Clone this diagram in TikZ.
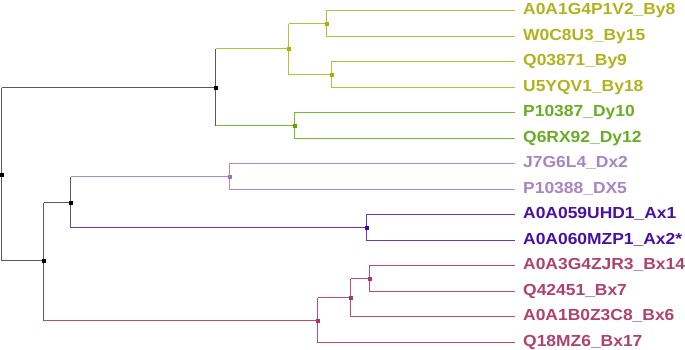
\documentclass[tikz,border=0pt]{standalone}
\usepackage{fontspec}
\newfontfamily\lab[FakeStretch=1.09]{Liberation Sans}
\definecolor{yellowtext}{HTML}{B2B21C}
\definecolor{yellowline}{HTML}{BDBD3C}
\definecolor{yellowdot}{HTML}{AFAF00}
\definecolor{greentext}{HTML}{68AE22}
\definecolor{greenline}{HTML}{78BA30}
\definecolor{greendot}{HTML}{5EA800}
\definecolor{lilactext}{HTML}{A885C0}
\definecolor{lilacline}{HTML}{B08AC8}
\definecolor{lilacdot}{HTML}{A070C0}
\definecolor{violettext}{HTML}{4A10A6}
\definecolor{violetline}{HTML}{6A38BE}
\definecolor{violetdot}{HTML}{4A00B0}
\definecolor{rosetext}{HTML}{B0426E}
\definecolor{roseline}{HTML}{BC4E76}
\definecolor{rosedot}{HTML}{B03464}
\definecolor{greyline}{HTML}{5A5A5A}
\tikzset{
  br/.style={line width=1.5pt, color=#1},
  dot/.style={rectangle, inner sep=0pt, minimum size=4pt, fill=#1},
  leaflab/.style={anchor=base west, inner sep=0pt, text=#1, font=\lab\bfseries\fontsize{16}{19}\selectfont},
}
\begin{document}
\begin{tikzpicture}[x=1pt,y=-1pt]
\useasboundingbox (0,0) rectangle (685,349);
% leaf end coordinates
\foreach \i/\y in {1/10.5,2/36.5,3/61.5,4/87.5,5/112.5,6/138.5,7/163.5,8/189.5,9/214.5,10/240.5,11/265.5,12/291.5,13/316.5,14/342.5}{
  \coordinate (l\i) at (514.5,\y);
}
% internal node positions
\coordinate (C) at (326.5,23.5);
\coordinate (D) at (331.5,74.5);
\coordinate (B) at (288.5,48.5);
\coordinate (E) at (294.5,125.5);
\coordinate (A) at (215.5,87.5);
\coordinate (F) at (229.5,176.5);
\coordinate (H) at (366.5,227.5);
\coordinate (G) at (70.5,202.5);
\coordinate (L) at (369.5,278.5);
\coordinate (K) at (350.5,297.5);
\coordinate (J) at (317.5,320.5);
\coordinate (I) at (43.5,260.5);
\coordinate (R) at (1.5,174.5);

% root
\draw[br=greyline] (R |- A) -- (R |- I);
\draw[br=greyline] (R |- A) -- (A);
\draw[br=greyline] (R |- I) -- (I);
% A
\draw[br=greyline] (A |- B) -- (A |- E);
\draw[br=yellowline] (A |- B) -- (B);
\draw[br=greenline] (A |- E) -- (E);
% B
\draw[br=yellowline] (B |- C) -- (B |- D);
\draw[br=yellowline] (B |- C) -- (C);
\draw[br=yellowline] (B |- D) -- (D);
% C, D
\draw[br=yellowline] (l1) -| (C) |- (l2);
\draw[br=yellowline] (l3) -| (D) |- (l4);
% E
\draw[br=greenline] (l5) -| (E) |- (l6);
% I
\draw[br=greyline] (I |- G) -- (I |- J);
\draw[br=greyline] (I |- G) -- (G);
\draw[br=roseline] (I |- J) -- (J);
% G
\draw[br=greyline] (G |- F) -- (G |- H);
\draw[br=lilacline] (G |- F) -- (F);
\draw[br=violetline] (G |- H) -- (H);
% F, H
\draw[br=lilacline] (l7) -| (F) |- (l8);
\draw[br=violetline] (l9) -| (H) |- (l10);
% J, K, L
\draw[br=roseline] (J |- K) -- (J |- l14);
\draw[br=roseline] (J |- K) -- (K);
\draw[br=roseline] (J |- l14) -- (l14);
\draw[br=roseline] (K |- L) -- (K |- l13);
\draw[br=roseline] (K |- L) -- (L);
\draw[br=roseline] (K |- l13) -- (l13);
\draw[br=roseline] (l11) -| (L) |- (l12);

% node dots
\node[dot=yellowdot] (nC) at (C) {};
\node[dot=yellowdot] (nD) at (D) {};
\node[dot=yellowdot] (nB) at (B) {};
\node[dot=greendot] (nE) at (E) {};
\node[dot=black] (nA) at (A) {};
\node[dot=lilacdot] (nF) at (F) {};
\node[dot=violetdot] (nH) at (H) {};
\node[dot=black] (nG) at (G) {};
\node[dot=rosedot] (nL) at (L) {};
\node[dot=rosedot] (nK) at (K) {};
\node[dot=rosedot] (nJ) at (J) {};
\node[dot=black] (nI) at (I) {};
\node[dot=black] (nR) at (R) {};

% labels
\tikzset{lab/.style={xshift=8.5pt,yshift=-4.3pt}}
\node[leaflab=yellowtext] (t1) at ([lab]l1) {A0A1G4P1V2\_By8};
\node[leaflab=yellowtext] (t2) at ([lab]l2) {W0C8U3\_By15};
\node[leaflab=yellowtext] (t3) at ([lab]l3) {Q03871\_By9};
\node[leaflab=yellowtext] (t4) at ([lab]l4) {U5YQV1\_By18};
\node[leaflab=greentext] (t5) at ([lab]l5) {P10387\_Dy10};
\node[leaflab=greentext] (t6) at ([lab]l6) {Q6RX92\_Dy12};
\node[leaflab=lilactext] (t7) at ([lab]l7) {J7G6L4\_Dx2};
\node[leaflab=lilactext] (t8) at ([lab]l8) {P10388\_DX5};
\node[leaflab=violettext] (t9) at ([lab]l9) {A0A059UHD1\_Ax1};
\node[leaflab=violettext] (t10) at ([lab]l10) {A0A060MZP1\_Ax2*};
\node[leaflab=rosetext] (t11) at ([lab]l11) {A0A3G4ZJR3\_Bx14};
\node[leaflab=rosetext] (t12) at ([lab]l12) {Q42451\_Bx7};
\node[leaflab=rosetext] (t13) at ([lab]l13) {A0A1B0Z3C8\_Bx6};
\node[leaflab=rosetext] (t14) at ([lab]l14) {Q18MZ6\_Bx17};
\end{tikzpicture}
\end{document}
